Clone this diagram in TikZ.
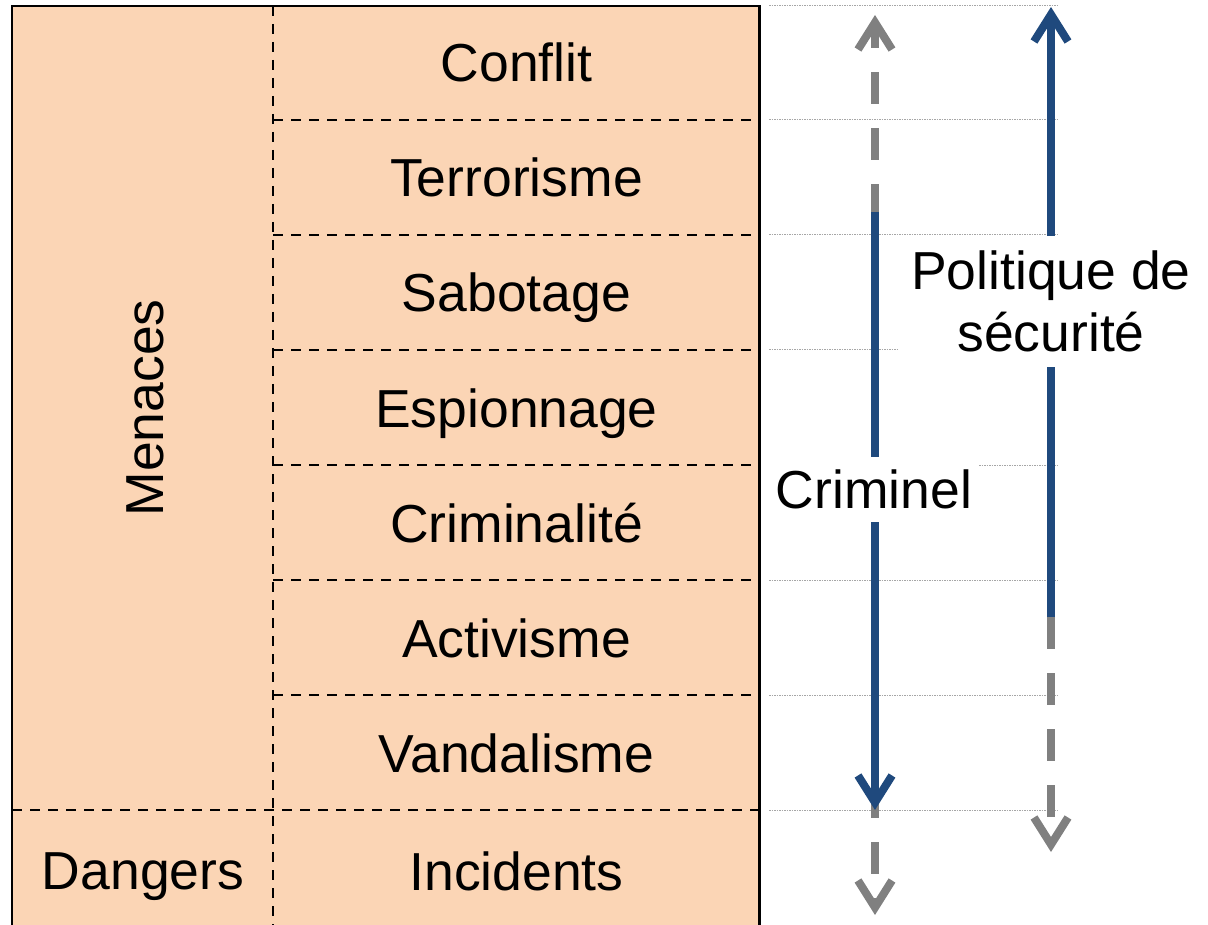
\documentclass[tikz,border=0pt]{standalone}
\usepackage{fontspec}
\setmainfont{Liberation Sans}
\usetikzlibrary{arrows.meta}
\definecolor{peach}{HTML}{FBD5B5}
\definecolor{navy}{HTML}{1F497D}
\definecolor{midgrey}{HTML}{808080}
\definecolor{guidegrey}{HTML}{A6A6A6}
\begin{document}
\begin{tikzpicture}[x=1pt,y=-1pt,
  big/.style={font=\fontsize{53.5}{62}\selectfont},
  celltext/.style={big, anchor=base, inner sep=0pt},
  frameline/.style={line width=2.5pt},
  sepline/.style={line width=2pt, dash pattern=on 10pt off 8pt},
  guideline/.style={draw=guidegrey, line width=1pt, dash pattern=on 1.5pt off 1pt},
  head/.style={-{Straight Barb[length=27pt,width=34pt,line width=8pt]}},
  solidarrow/.style={draw=navy, line width=8pt, head},
  ghostarrow/.style={draw=midgrey, line width=8pt, dash pattern=on 32pt off 24pt, head},
  arrowlabel/.style={big, fill=white, inner sep=0pt, align=center}
]
\useasboundingbox (0,0) rectangle (1208,925);
% table background and frame
\fill[peach] (12,6) rectangle (759.5,925);
\draw[frameline] (12,925) -- (12,6) -- (759.5,6) -- (759.5,925);
% separators
\draw[sepline] (273,6) -- (273,925);
\foreach \yy in {120,235,350,465,580,695} {
  \draw[sepline] (273,\yy) -- (759.5,\yy);
}
\draw[sepline] (12,810) -- (759.5,810);
% cell texts
\node[celltext] (conflit) at (516.5,82) {Conflit};
\node[celltext] (terror) at (516.5,197) {Terrorisme};
\node[celltext] (sabot) at (516.5,312) {Sabotage};
\node[celltext] (espion) at (516.5,427) {Espionnage};
\node[celltext] (crimin) at (516.5,542) {Criminalité};
\node[celltext] (activ) at (516.5,657) {Activisme};
\node[celltext] (vandal) at (516.5,772) {Vandalisme};
\node[celltext] (incid) at (516.5,890) {Incidents};
\node[celltext] (dangers) at (143,889) {Dangers};
\node[celltext, rotate=90] (menaces) at (163,408) {Menaces};
% guide lines
\foreach \yy in {6,120,235,350,465,580,695,810} {
  \draw[guideline] (769,\yy) -- (1057,\yy);
}
% arrow end points
\coordinate (cTop) at (875,15);
\coordinate (cGreyStart) at (875,216);
\coordinate (cBlueStart) at (875,212);
\coordinate (cBlueEnd) at (875,810);
\coordinate (cGreyLowStart) at (875,786);
\coordinate (cBottom) at (875,915);
\coordinate (pTop) at (1051,7);
\coordinate (pSplit) at (1051,617);
\coordinate (pBottom) at (1051,852);
% grey dashed parts
\draw[ghostarrow] (cGreyStart) -- (cTop);
\draw[ghostarrow] (cGreyLowStart) -- (cBottom);
\draw[ghostarrow] (pSplit) -- (pBottom);
% blue parts
\draw[solidarrow] (cBlueStart) -- (cBlueEnd);
\draw[solidarrow] (pSplit) -- (pTop);
% labels
\node[arrowlabel, minimum width=210pt, minimum height=65pt] (criminel) at (874,489.5) {Criminel};
\node[arrowlabel, minimum width=304pt, minimum height=131pt] (politique) at (1051,301.5) {Politique de\\sécurité};
\end{tikzpicture}
\end{document}
